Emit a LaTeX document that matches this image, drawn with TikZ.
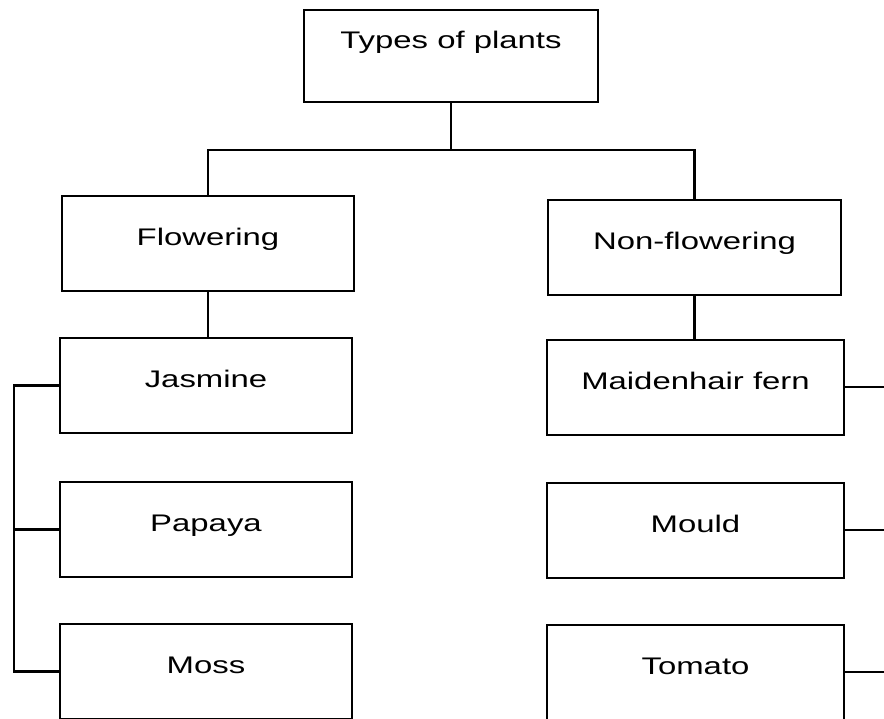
\documentclass[tikz,border=0pt]{standalone}
\usepackage{fontspec}
\setmainfont{Liberation Sans}
\newcommand{\wide}[1]{\scalebox{1.37}[1]{#1}}
\tikzset{
  pbox/.style={draw, line width=2pt, rectangle, inner sep=0pt,
    minimum width=294pt, minimum height=95pt,
    font=\fontsize{24}{28}\selectfont, text height=17pt, text depth=13pt},
  conn/.style={line width=2.2pt, line cap=rect}
}
\begin{document}
\begin{tikzpicture}[x=1pt,y=-1pt]
\useasboundingbox (0,0) rectangle (884,718);
\clip (0,0) rectangle (884,718);
\fill[white] (0,0) rectangle (884,718);

\node[pbox, minimum height=92pt, text depth=33pt] (top) at (451,56) {\wide{Types of plants}};
\node[pbox, minimum width=292pt] (flow) at (208,243.5) {\wide{Flowering}};
\node[pbox, minimum width=293pt] (nonf) at (694.5,247.5) {\wide{Non-flowering}};

\node[pbox, minimum width=292pt] (jas) at (206,385.5) {\wide{Jasmine}};
\node[pbox, minimum width=292pt] (pap) at (206,529.5) {\wide{Papaya}};
\node[pbox, minimum width=292pt] (moss) at (206,671.5) {\wide{Moss}};

\node[pbox, minimum width=297pt] (maid) at (695.5,387) {\wide{Maidenhair fern}};
\node[pbox, minimum width=297pt] (mould) at (695.5,530) {\wide{Mould}};
\node[pbox, minimum width=297pt] (tom) at (695.5,672) {\wide{Tomato}};

\coordinate (bus) at (0,150);
\coordinate (lbus) at (14,0);
\coordinate (redge) at (886,0);

\draw[conn] (top.south) -- (top.south |- bus);
\draw[conn] (flow.north) -- (flow.north |- bus) -- (nonf.north |- bus) -- (nonf.north);
\draw[conn] (flow.south) -- (flow.south |- jas.north);
\draw[conn] (nonf.south) -- (nonf.south |- maid.north);

\draw[conn] (jas.west) -- (jas.west -| lbus) -- (moss.west -| lbus) -- (moss.west);
\draw[conn] (pap.west) -- (pap.west -| lbus);

\draw[conn] (maid.east) -- (maid.east -| redge);
\draw[conn] (mould.east) -- (mould.east -| redge);
\draw[conn] (tom.east) -- (tom.east -| redge);
\end{tikzpicture}
\end{document}
